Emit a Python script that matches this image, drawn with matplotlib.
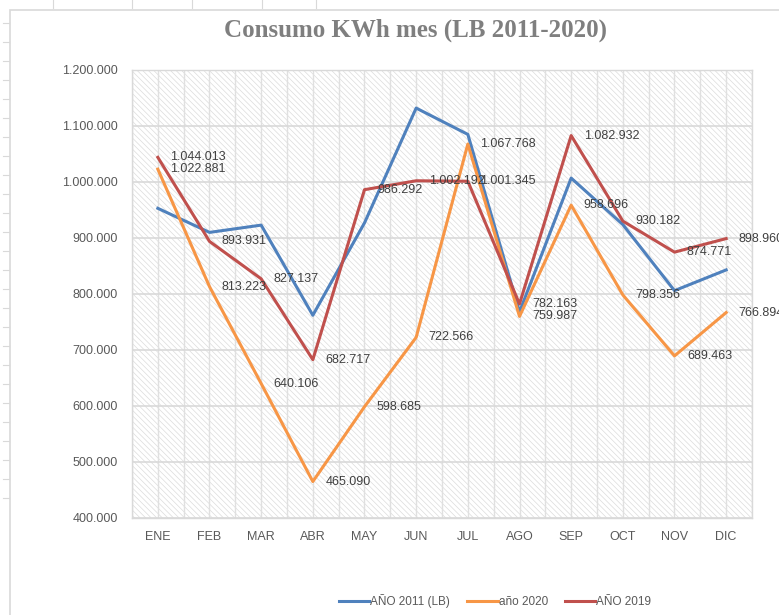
import matplotlib.pyplot as plt
from matplotlib.patches import Rectangle
from matplotlib.lines import Line2D
from matplotlib.ticker import FuncFormatter, MultipleLocator

meses = ['ENE', 'FEB', 'MAR', 'ABR', 'MAY', 'JUN', 'JUL', 'AGO', 'SEP', 'OCT', 'NOV', 'DIC']

# linea base 2011 (sin etiquetas en el grafico, valores estimados)
lb_2011 = [953000, 910000, 923000, 762000, 927000, 1132000, 1085000, 768000, 1007000, 924000, 806000, 843000]
anio_2020 = [1022881, 813223, 640106, 465090, 598685, 722566, 1067768, 759987, 958696, 798356, 689463, 766894]
anio_2019 = [1044013, 893931, 827137, 682717, 986292, 1002192, 1001345, 782163, 1082932, 930182, 874771, 898960]

series = [
    ('AÑO 2011 (LB)', lb_2011, '#4F81BD', False),
    ('año 2020', anio_2020, '#F79646', True),
    ('AÑO 2019', anio_2019, '#C0504D', True),
]

gris = '#595959'
plt.rcParams['font.family'] = ['Liberation Sans', 'DejaVu Sans']
plt.rcParams['hatch.color'] = '#DCDCDC'
plt.rcParams['hatch.linewidth'] = 0.5


def miles(v, pos):
    return '{:,.0f}'.format(v).replace(',', '.')


fig = plt.figure(figsize=(7.79, 6.15), dpi=100)
ax = fig.add_axes([132 / 779, 1 - 518 / 615, 620 / 779, 448 / 615])

# marco del area del grafico (tipo Excel)
fig.patches.append(Rectangle((10 / 779, -0.1), 1.2, 0.1 + 1 - 10 / 615, transform=fig.transFigure,
                             fill=False, edgecolor='#D9D9D9', linewidth=1.2))
for yy in range(23, 512, 19):
    fig.lines.append(Line2D([3 / 779, 9 / 779], [1 - yy / 615] * 2, transform=fig.transFigure,
                            color='#D9D9D9', lw=0.8))
for xx in [53, 132, 192, 262, 316]:
    fig.lines.append(Line2D([xx / 779] * 2, [1, 1 - 8 / 615], transform=fig.transFigure,
                            color='#D9D9D9', lw=0.8))

ax.add_patch(Rectangle((0, 0), 1, 1, transform=ax.transAxes, facecolor='white',
                       hatch='\\\\\\\\\\\\', edgecolor='#DCDCDC', linewidth=0, zorder=0))

x = list(range(len(meses)))
for nombre, vals, color, etiquetas in series:
    ax.plot(x, vals, color=color, linewidth=2.2, label=nombre, zorder=3)
    if etiquetas:
        for xi, v in zip(x, vals):
            ax.annotate(miles(v, None), (xi, v), xytext=(9, 0), textcoords='offset points',
                        ha='left', va='center', fontsize=9, color='#404040', zorder=4)

ax.set_xlim(-0.5, 11.5)
ax.set_ylim(400000, 1200000)
ax.yaxis.set_major_locator(MultipleLocator(100000))
ax.yaxis.set_major_formatter(FuncFormatter(miles))
ax.set_xticks(x)
ax.set_xticklabels(meses)
ax.set_xticks([i - 0.5 for i in range(13)], minor=True)
ax.grid(axis='y', color='#D9D9D9', linewidth=1.2, zorder=1)
ax.grid(axis='x', which='both', color='#E0E0E0', linewidth=1.0, zorder=1)
ax.set_axisbelow(True)
ax.tick_params(axis='both', which='both', length=0, labelsize=9, colors=gris, pad=10)
ax.tick_params(axis='x', pad=9)
for s in ax.spines.values():
    s.set_color('#D9D9D9')
    s.set_linewidth(1.0)

fig.text(416 / 779, 1 - 30 / 615, 'Consumo KWh mes (LB 2011-2020)', ha='center', va='center',
         fontsize=18, fontweight='bold', color='#7F7F7F', family='Liberation Serif')

leg = fig.legend(loc='center', bbox_to_anchor=(495 / 779, 1 - 601 / 615), ncol=3, frameon=False,
                 fontsize=8.5, handlelength=2.6, handletextpad=0.1, columnspacing=1.4)
for t in leg.get_texts():
    t.set_color(gris)
for h in leg.get_lines():
    h.set_linewidth(2.2)

fig.savefig('out.png', dpi=100)
